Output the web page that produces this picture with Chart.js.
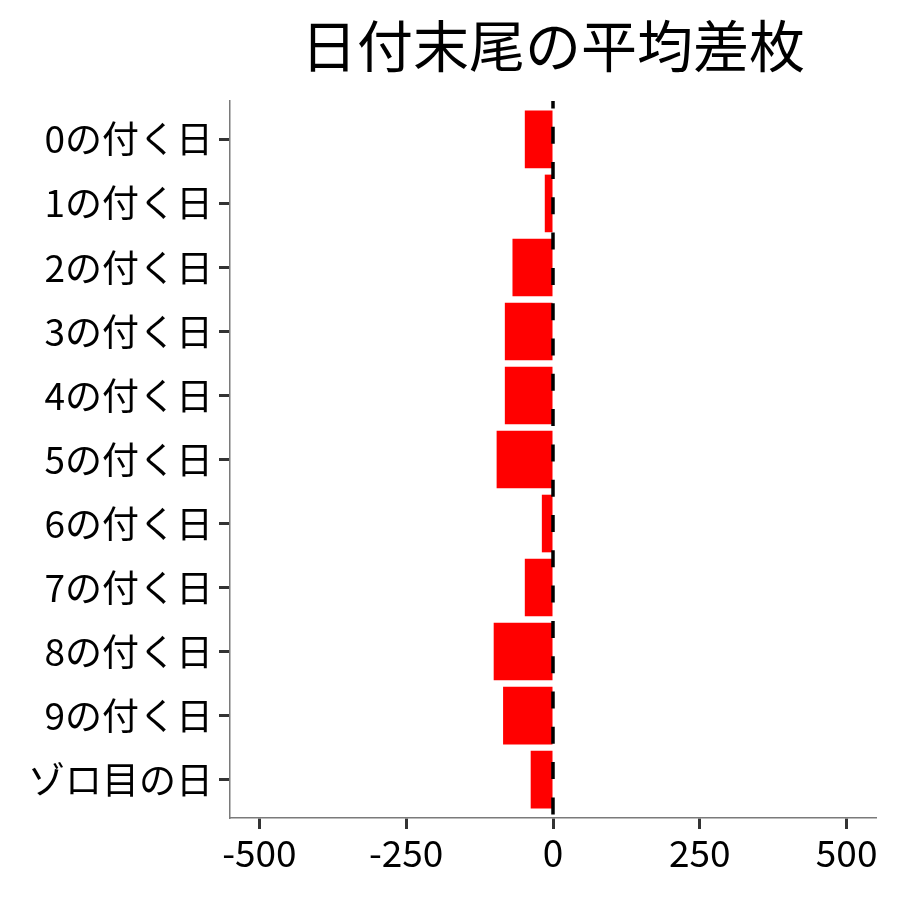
<!DOCTYPE html>
<html>
<head>
<meta charset="utf-8">
<script src="https://cdn.jsdelivr.net/npm/chart.js@4/dist/chart.umd.min.js"></script>
<style>
  html, body { margin: 0; padding: 0; background: #fff; }
  canvas { display: block; }
</style>
</head>
<body>
<canvas id="chart" width="900" height="900"></canvas>
<script>
'use strict';

const chartTitle = '日付末尾の平均差枚';
const categories = ['0の付く日', '1の付く日', '2の付く日', '3の付く日', '4の付く日', '5の付く日',
  '6の付く日', '7の付く日', '8の付く日', '9の付く日', 'ゾロ目の日'];
const diffValues = [-48, -14, -69, -82, -82, -96, -19, -48, -101, -85, -38];
const xTicks = [-500, -250, 0, 250, 500];

const fontFamily = '"Noto Sans CJK JP", "Noto Sans", sans-serif';

(function() {
  var ctx = document.querySelector('#chart').getContext('2d');

  //title centred over the panel, zero line drawn over bars
  const panelExtras = {
    id: 'panelExtras',
    afterDatasetsDraw: function(chart) {
      let c = chart.ctx;
      let area = chart.chartArea;
      let x0 = chart.scales.x.getPixelForValue(0);
      c.save();
      c.strokeStyle = '#000';
      c.lineWidth = 3.5;
      c.setLineDash([17, 18.3]);
      c.lineDashOffset = 9.6;
      c.beginPath();
      c.moveTo(x0, area.top);
      c.lineTo(x0, area.bottom);
      c.stroke();
      c.restore();
    },
    afterDraw: function(chart) {
      let c = chart.ctx;
      let area = chart.chartArea;
      c.save();
      c.fillStyle = '#000';
      c.font = '56px ' + fontFamily;
      c.textAlign = 'center';
      c.textBaseline = 'middle';
      c.fillText(chartTitle, (area.left + area.right) / 2, 46);
      c.restore();
    }
  };

  new Chart(ctx, {
    type: 'bar',
    data: {
      datasets: [{
        data: diffValues.map(function(v, i) { return { x: v, y: i }; }),
        backgroundColor: '#FF0000',
        borderWidth: 0,
        barPercentage: 0.9,
        categoryPercentage: 1
      }]
    },
    options: {
      indexAxis: 'y',
      responsive: false,
      animation: false,
      devicePixelRatio: 1,
      layout: { padding: { top: 101, right: 24, left: 0, bottom: 0 } },
      plugins: {
        legend: { display: false },
        tooltip: { enabled: false },
        title: { display: false }
      },
      scales: {
        x: {
          type: 'linear',
          min: -550,
          max: 550,
          afterBuildTicks: function(scale) {
            scale.ticks = xTicks.map(function(v) { return { value: v }; });
          },
          afterFit: function(scale) { scale.height = 82; },
          grid: { drawOnChartArea: false, drawTicks: true, tickLength: 11, tickColor: '#333', tickWidth: 3 },
          border: { display: true, color: '#7a7a7a', width: 1.5 },
          ticks: { color: '#000', font: { family: fontFamily, size: 37 }, padding: 2, maxRotation: 0 }
        },
        y: {
          type: 'linear',
          reverse: true,
          offset: false,
          min: -0.6,
          max: categories.length - 0.4,
          afterBuildTicks: function(scale) {
            scale.ticks = categories.map(function(c, i) { return { value: i }; });
          },
          afterFit: function(scale) { scale.width = 230; },
          grid: { offset: false, drawOnChartArea: false, drawTicks: true, tickLength: 11, tickColor: '#333', tickWidth: 3 },
          border: { display: true, color: '#7a7a7a', width: 1.5 },
          ticks: {
            color: '#000',
            font: { family: fontFamily, size: 37 },
            padding: 6,
            callback: function(value) { return categories[value]; }
          }
        }
      }
    },
    plugins: [panelExtras]
  });
})();
</script>
</body>
</html>
